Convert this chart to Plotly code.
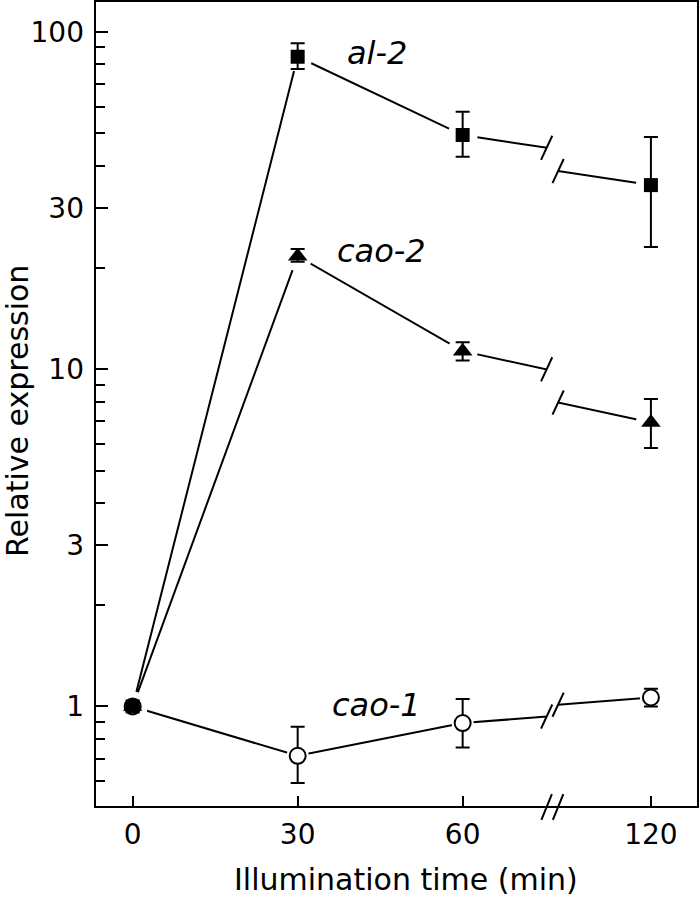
import numpy as np
import plotly.graph_objects as go

# ---------------- data ----------------
times = [0, 30, 60, 120]
x_tick_text = ["0", "30", "60", "120"]

al2 = [1.0, 84.3, 49.4, 35.1]
al2_hi = [1.0, 92.4, 57.9, 48.7]
al2_lo = [1.0, 77.5, 42.6, 23.0]

cao2 = [1.0, 21.6, 11.3, 6.94]
cao2_hi = [1.0, 22.7, 12.0, 8.16]
cao2_lo = [1.0, 20.8, 10.6, 5.84]

cao1 = [1.0, 0.714, 0.893, 1.063]
cao1_hi = [1.0, 0.871, 1.052, 1.128]
cao1_lo = [1.0, 0.593, 0.756, 1.0]

series_names = ["cao-1", "al-2", "cao-2"]

y_tick_vals = [1, 3, 10, 30, 100]
y_tick_text = ["1", "3", "10", "30", "100"]
y_minor_vals = [0.6, 0.7, 0.8, 0.9, 2, 4, 5, 6, 7, 8, 9, 20, 40, 50, 60, 70, 80, 90]

# ---------------- layout config ----------------
FONT = "DejaVu Sans"
LW = 2
x1_range = [-6.85, 75.27]      # left part of broken axis
x2_range = [103.15, 128.55]    # right part of broken axis
d1, d2 = 0.749, 0.768
y_range = [-0.298, 2.091]

styles = {
    "al-2": dict(symbol="square", size=14, color="black", line=dict(width=0), halo=30),
    "cao-2": dict(symbol="triangle-up", size=17, color="black", line=dict(width=0), halo=30),
    "cao-1": dict(symbol="circle", size=16, color="white", line=dict(width=LW, color="black"), halo=22),
}
data = {
    "al-2": (al2, al2_hi, al2_lo),
    "cao-2": (cao2, cao2_hi, cao2_lo),
    "cao-1": (cao1, cao1_hi, cao1_lo),
}
label_pos = {"al-2": (44.4, 1.937), "cao-2": (45.3, 1.350), "cao-1": (44.4, 0.004)}

fig = go.Figure()

# connecting lines with white halos around the points (gap effect)
for name in series_names:
    v = data[name][0]
    st = styles[name]
    for xa in ["x", "x2"]:
        fig.add_trace(go.Scatter(
            x=times, y=v, xaxis=xa, yaxis="y", mode="lines+markers",
            line=dict(color="black", width=LW),
            marker=dict(symbol="circle", size=st["halo"], color="white", line=dict(width=0)),
            hoverinfo="skip", showlegend=False))

# markers with error bars
for name in series_names:
    v, hi, lo = data[name]
    st = styles[name]
    plus = [h - a for h, a in zip(hi, v)]
    minus = [a - l for a, l in zip(v, lo)]
    for xa in ["x", "x2"]:
        fig.add_trace(go.Scatter(
            x=times, y=v, xaxis=xa, yaxis="y", mode="markers", name=name,
            marker=dict(symbol=st["symbol"], size=st["size"], color=st["color"], line=st["line"]),
            error_y=dict(type="data", symmetric=False, array=plus, arrayminus=minus,
                         color="black", thickness=LW, width=7),
            showlegend=False))

# break marks at line ends (where each line meets the axis break)
def log_interp(t, v):
    return 10 ** np.interp(t, times, np.log10(v))

for name in series_names:
    v = data[name][0]
    fig.add_trace(go.Scatter(
        x=[x1_range[1]], y=[log_interp(x1_range[1], v)], xaxis="x", yaxis="y", mode="markers",
        marker=dict(symbol="line-ns", size=19, angle=25, line=dict(width=LW, color="black")),
        cliponaxis=False, hoverinfo="skip", showlegend=False))
    fig.add_trace(go.Scatter(
        x=[x2_range[0]], y=[log_interp(x2_range[0], v)], xaxis="x2", yaxis="y", mode="markers",
        marker=dict(symbol="line-ns", size=19, angle=25, line=dict(width=LW, color="black")),
        cliponaxis=False, hoverinfo="skip", showlegend=False))

# "//" on the x axis
for xa, xv in [("x", x1_range[1]), ("x2", x2_range[0])]:
    fig.add_trace(go.Scatter(
        x=[xv], y=[10 ** y_range[0]], xaxis=xa, yaxis="y", mode="markers",
        marker=dict(symbol="line-ns", size=20, angle=22, line=dict(width=LW, color="black")),
        cliponaxis=False, hoverinfo="skip", showlegend=False))

axis_common = dict(ticks="inside", tickwidth=LW, tickcolor="black", showgrid=False,
                   zeroline=False, showline=False,
                   tickfont=dict(family=FONT, size=28, color="black"))

fig.update_layout(
    width=700, height=897,
    margin=dict(l=95, r=2, t=1, b=90),
    plot_bgcolor="white", paper_bgcolor="white",
    showlegend=False,
    xaxis=dict(domain=[0, d1], range=x1_range, tickmode="array",
               tickvals=times[:3], ticktext=x_tick_text[:3], ticklen=11,
               ticklabelstandoff=8, anchor="y", **axis_common),
    xaxis2=dict(domain=[d2, 1], range=x2_range, tickmode="array",
                tickvals=times[3:], ticktext=x_tick_text[3:], ticklen=11,
                ticklabelstandoff=8, anchor="y", **axis_common),
    yaxis=dict(type="log", range=y_range, tickmode="array", tickvals=y_tick_vals,
               ticktext=y_tick_text, ticklen=13, anchor="x", ticklabelstandoff=10,
               minor=dict(tickmode="array", tickvals=y_minor_vals, ticks="inside",
                          ticklen=10, tickwidth=LW, tickcolor="black"),
               **axis_common),
)

# frame
fig.add_shape(type="rect", xref="paper", yref="paper", x0=0, x1=1, y0=0, y1=1,
              line=dict(color="black", width=LW), fillcolor="rgba(0,0,0,0)", layer="above")

# series labels
for name in series_names:
    lx, ly = label_pos[name]
    fig.add_annotation(x=lx, y=ly, xref="x", yref="y", text=f"<i>{name}</i>", showarrow=False,
                       xanchor="center", yanchor="middle",
                       font=dict(family=FONT, size=32, color="black"))

# axis titles
fig.add_annotation(text="Relative expression", xref="paper", yref="paper", x=0, y=0.5,
                   xshift=-78, yshift=-7, textangle=-90, showarrow=False,
                   xanchor="center", yanchor="middle",
                   font=dict(family=FONT, size=30, color="black"))
fig.add_annotation(text="Illumination time (min)", xref="paper", yref="paper", x=0.515, y=0,
                   yshift=-72, showarrow=False, xanchor="center", yanchor="middle",
                   font=dict(family=FONT, size=30, color="black"))

fig.write_html("out.html", config={"displayModeBar": False},
               post_script="document.body.style.margin='0';")
